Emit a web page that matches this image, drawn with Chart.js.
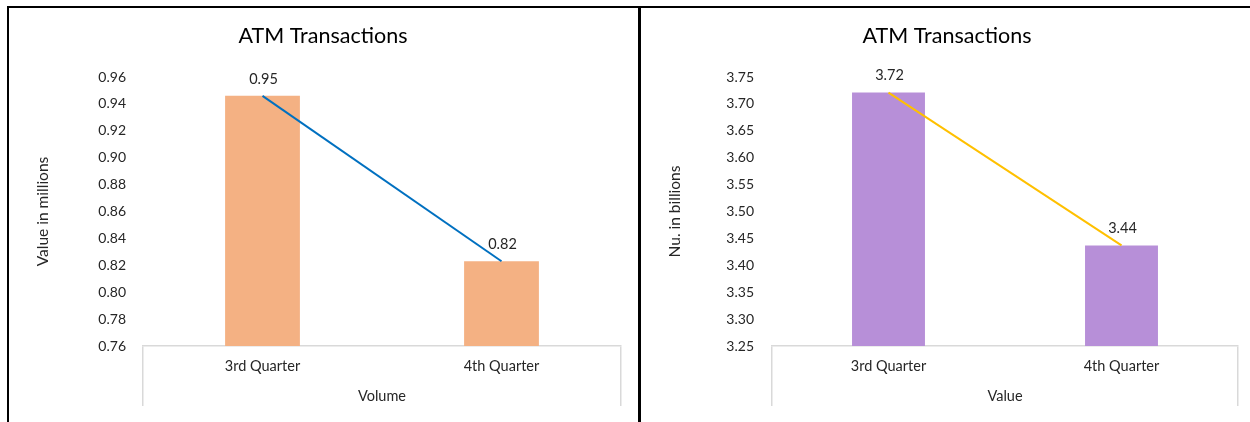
<!DOCTYPE html>
<html>
<head>
<meta charset="utf-8">
<script src="https://cdn.jsdelivr.net/npm/chart.js@4/dist/chart.umd.min.js"></script>
<style>
  body { margin: 0; background: #fff; width: 1250px; height: 422px; overflow: hidden; position: relative; }
  .rule { position: absolute; background: #000; }
  canvas { position: absolute; }
</style>
</head>
<body>
<div class="rule" style="left:7px; top:6px; width:1243px; height:2px;"></div>
<div class="rule" style="left:7px; top:6px; width:2px; height:416px;"></div>
<div class="rule" style="left:638px; top:6px; width:3px; height:416px;"></div>
<canvas id="volumeChart" style="left:9px; top:9px;" width="628" height="413"></canvas>
<canvas id="valueChart" style="left:641px; top:9px;" width="609" height="413"></canvas>
<script>
// Chart data
const categories = ['3rd Quarter', '4th Quarter'];
const volumeValues = [0.946, 0.823];
const valueValues = [3.721, 3.437];
const volumeTicks = [0.76, 0.78, 0.80, 0.82, 0.84, 0.86, 0.88, 0.90, 0.92, 0.94, 0.96];
const valueTicks = [3.25, 3.30, 3.35, 3.40, 3.45, 3.50, 3.55, 3.60, 3.65, 3.70, 3.75];

const FONT = 'Lato';
const TEXT = '#262626';

// Draws the number above each point of the line
const pointLabels = {
    id: 'pointLabels',
    afterDatasetsDraw(chart) {
        const ctx = chart.ctx;
        const meta = chart.getDatasetMeta(0);
        const data = chart.data.datasets[0].data;
        ctx.save();
        ctx.font = '14.5px ' + FONT;
        ctx.fillStyle = TEXT;
        ctx.textAlign = 'center';
        ctx.textBaseline = 'middle';
        meta.data.forEach((pt, i) => {
            ctx.fillText(data[i].toFixed(2), pt.x + 1, pt.y - 17);
        });
        ctx.restore();
    }
};

function makeChart(id, values, ticks, barColor, lineColor, yTitle, xTitle, pad) {
    const step = Math.round((ticks[1] - ticks[0]) * 1000) / 1000;
    new Chart(document.getElementById(id).getContext('2d'), {
        data: {
            labels: categories,
            datasets: [{
                type: 'line',
                data: values,
                borderColor: lineColor,
                borderWidth: 2,
                pointRadius: 0,
                fill: false,
                order: 0
            }, {
                type: 'bar',
                data: values,
                backgroundColor: barColor,
                categoryPercentage: 1,
                barPercentage: 0.313,
                order: 1
            }]
        },
        options: {
            responsive: false,
            animation: false,
            layout: { padding: { left: pad.left, right: pad.right, top: 0, bottom: 0 } },
            plugins: {
                legend: { display: false },
                tooltip: { enabled: false },
                title: {
                    display: true,
                    text: 'ATM Transactions',
                    color: '#000',
                    font: { family: FONT, size: 21.5, weight: 'normal' },
                    padding: { top: 14.1, bottom: 28.1 }
                }
            },
            scales: {
                x: {
                    offset: true,
                    border: { display: true, color: '#D9D9D9', width: 1.5 },
                    grid: {
                        offset: true,
                        drawOnChartArea: false,
                        drawTicks: true,
                        tickLength: 60,
                        lineWidth: 1.5,
                        color: c => c.index === 1 ? 'rgba(0,0,0,0)' : '#D9D9D9'
                    },
                    ticks: {
                        color: TEXT,
                        font: { family: FONT, size: 14.5 },
                        padding: -48.7,
                        maxRotation: 0
                    },
                    title: {
                        display: true,
                        text: xTitle,
                        color: TEXT,
                        font: { family: FONT, size: 14.5 },
                        padding: { top: 0, bottom: 17.3 }
                    },
                    afterFit: s => { s.height = 76; }
                },
                y: {
                    min: ticks[0],
                    max: ticks[ticks.length - 1],
                    border: { display: false },
                    grid: { display: false, drawTicks: false },
                    ticks: {
                        stepSize: step,
                        color: TEXT,
                        font: { family: FONT, size: 14 },
                        padding: pad.tick,
                        callback: v => v.toFixed(2)
                    },
                    title: {
                        display: true,
                        text: yTitle,
                        color: TEXT,
                        font: { family: FONT, size: 15.5 },
                        padding: { top: pad.title, bottom: 0 }
                    },
                    afterFit: s => { s.width = pad.axis; }
                }
            }
        },
        plugins: [pointLabels]
    });
}

makeChart('volumeChart', volumeValues, volumeTicks, '#F4B183', '#0070C0',
    'Value in millions', 'Volume', { left: 16, right: 16, axis: 118, tick: 17, title: 8.7 });
makeChart('valueChart', valueValues, valueTicks, '#B78FD8', '#FFC000',
    'Nu. in billions', 'Value', { left: 15, right: 12, axis: 116, tick: 18, title: 9.7 });
</script>
</body>
</html>
